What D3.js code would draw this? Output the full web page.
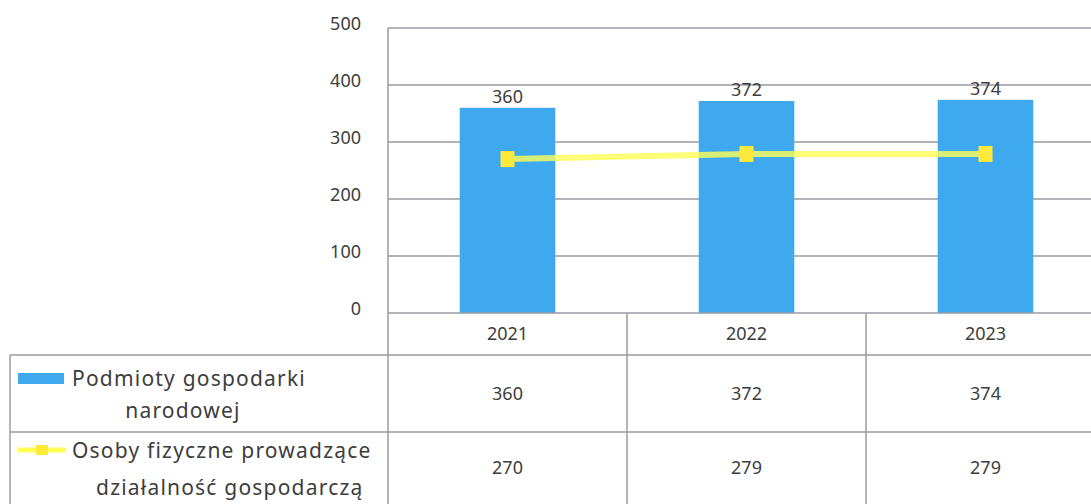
<!DOCTYPE html>
<html>
<head>
<meta charset="utf-8">
<script src="https://cdn.jsdelivr.net/npm/d3@7"></script>
<style>
  body { margin: 0; background: #fff; }
  text { font-family: "Noto Sans", "Open Sans", sans-serif; fill: #3d3d3d; }
</style>
</head>
<body>
<svg width="1091" height="504"></svg>
<script>
var years = ["2021", "2022", "2023"];
var podmioty = [360, 372, 374];
var osoby = [270, 279, 279];
var yTicks = [0, 100, 200, 300, 400, 500];
var seriesNames = [["Podmioty gospodarki", "narodowej"],
                   ["Osoby fizyczne prowadzące", "działalność gospodarczą"]];

var svg = d3.select("svg"),
    width = +svg.attr("width"),
    height = +svg.attr("height");

var plotLeft = 388, plotRight = 1105, plotTop = 28, zeroY = 313;
var rowY = [313, 355, 432, 504];
var tableLeft = 10;
var gridColor = "#9a9aa6";
var numSize = "18px";

var x = d3.scaleBand().domain(years).range([plotLeft, plotRight])
    .paddingInner(0.6).paddingOuter(0.3);
var y = d3.scaleLinear().domain([0, 500]).range([zeroY, plotTop]);

// gridlines
svg.append("g").selectAll("line")
  .data(yTicks.filter(function(d) { return d > 0; }))
  .enter().append("line")
    .attr("x1", plotLeft).attr("x2", width)
    .attr("y1", function(d) { return y(d); })
    .attr("y2", function(d) { return y(d); })
    .attr("stroke", gridColor).attr("stroke-width", 1.5);

// y axis labels
var yAxis = d3.axisLeft(y).tickValues(yTicks).tickSize(0).tickPadding(27);
svg.append("g")
    .attr("transform", "translate(" + plotLeft + ",0)")
    .call(yAxis)
    .call(function(g) { g.select(".domain").remove(); })
    .selectAll("text")
      .style("font-size", numSize)
      .style("font-family", "\"Noto Sans\", sans-serif")
      .attr("fill", "#444")
      .attr("dy", "0.1em");

// bars
svg.append("g").selectAll("rect")
  .data(podmioty)
  .enter().append("rect")
    .attr("x", function(d, i) { return x(years[i]); })
    .attr("y", function(d) { return y(d); })
    .attr("width", x.bandwidth())
    .attr("height", function(d) { return zeroY - y(d); })
    .attr("fill", "#3ea9ef");

// bar labels
svg.append("g").selectAll("text")
  .data(podmioty)
  .enter().append("text")
    .attr("x", function(d, i) { return x(years[i]) + x.bandwidth() / 2; })
    .attr("y", function(d) { return y(d) - 5; })
    .attr("text-anchor", "middle")
    .style("font-size", numSize)
    .text(function(d) { return d; });

// line series
var cx = function(d, i) { return x(years[i]) + x.bandwidth() / 2; };
var line = d3.line().x(cx).y(function(d) { return y(d); });
svg.append("path")
    .datum(osoby)
    .attr("d", line)
    .attr("fill", "none")
    .attr("stroke", "#ffff55")
    .attr("stroke-opacity", 0.8)
    .attr("stroke-width", 6);

svg.append("g").selectAll("rect")
  .data(osoby)
  .enter().append("rect")
    .attr("x", function(d, i) { return cx(d, i) - 7; })
    .attr("y", function(d) { return y(d) - 8; })
    .attr("width", 14).attr("height", 16)
    .attr("fill", "#ffe83c");

// data table
var table = svg.append("g");
table.append("line")
    .attr("x1", plotLeft).attr("x2", plotLeft)
    .attr("y1", plotTop).attr("y2", height)
    .attr("stroke", gridColor).attr("stroke-width", 1.5);
table.append("line")
    .attr("x1", plotLeft).attr("x2", width)
    .attr("y1", rowY[0]).attr("y2", rowY[0])
    .attr("stroke", gridColor).attr("stroke-width", 1.5);
table.selectAll(".hrow")
  .data([rowY[1], rowY[2]])
  .enter().append("line")
    .attr("x1", tableLeft).attr("x2", width)
    .attr("y1", function(d) { return d; }).attr("y2", function(d) { return d; })
    .attr("stroke", gridColor).attr("stroke-width", 1.5);
table.append("line")
    .attr("x1", tableLeft).attr("x2", tableLeft)
    .attr("y1", rowY[1]).attr("y2", height)
    .attr("stroke", gridColor).attr("stroke-width", 1.5);
table.selectAll(".vcol")
  .data(years.slice(1))
  .enter().append("line")
    .attr("x1", function(d) { return x(d) - x.step() * x.paddingInner() / 2; })
    .attr("x2", function(d) { return x(d) - x.step() * x.paddingInner() / 2; })
    .attr("y1", rowY[0]).attr("y2", height)
    .attr("stroke", gridColor).attr("stroke-width", 1.5);

var cellText = function(vals, yy) {
  table.append("g").selectAll("text")
    .data(vals)
    .enter().append("text")
      .attr("x", function(d, i) { return cx(d, i); })
      .attr("y", yy)
      .attr("text-anchor", "middle")
      .attr("dy", "0.35em")
      .style("font-size", numSize)
      .text(function(d) { return d; });
};
cellText(years, (rowY[0] + rowY[1]) / 2);
cellText(podmioty, (rowY[1] + rowY[2]) / 2);
cellText(osoby, (rowY[2] + rowY[3]) / 2);

// legend keys
table.append("rect")
    .attr("x", 18).attr("y", 373).attr("width", 46).attr("height", 11)
    .attr("fill", "#3ea9ef");
table.append("line")
    .attr("x1", 18).attr("x2", 66).attr("y1", 450).attr("y2", 450)
    .attr("stroke", "#ffff55").attr("stroke-width", 5);
table.append("rect")
    .attr("x", 36).attr("y", 445).attr("width", 12).attr("height", 10)
    .attr("fill", "#ffe83c");

// legend labels: first line after the key, second centred under it
var legendY = [[386, 418], [458, 495]];
seriesNames.forEach(function(lines, k) {
  var t1 = table.append("text")
      .attr("x", 72).attr("y", legendY[k][0])
      .style("font-size", "21px")
      .style("letter-spacing", "1.2px")
      .text(lines[0]);
  var w = t1.node().getComputedTextLength();
  table.append("text")
      .attr("x", 72 + w / 2 + (k === 1 ? 8 : -6)).attr("y", legendY[k][1])
      .attr("text-anchor", "middle")
      .style("font-size", "21px")
      .style("letter-spacing", "1.2px")
      .text(lines[1]);
});
</script>
</body>
</html>
